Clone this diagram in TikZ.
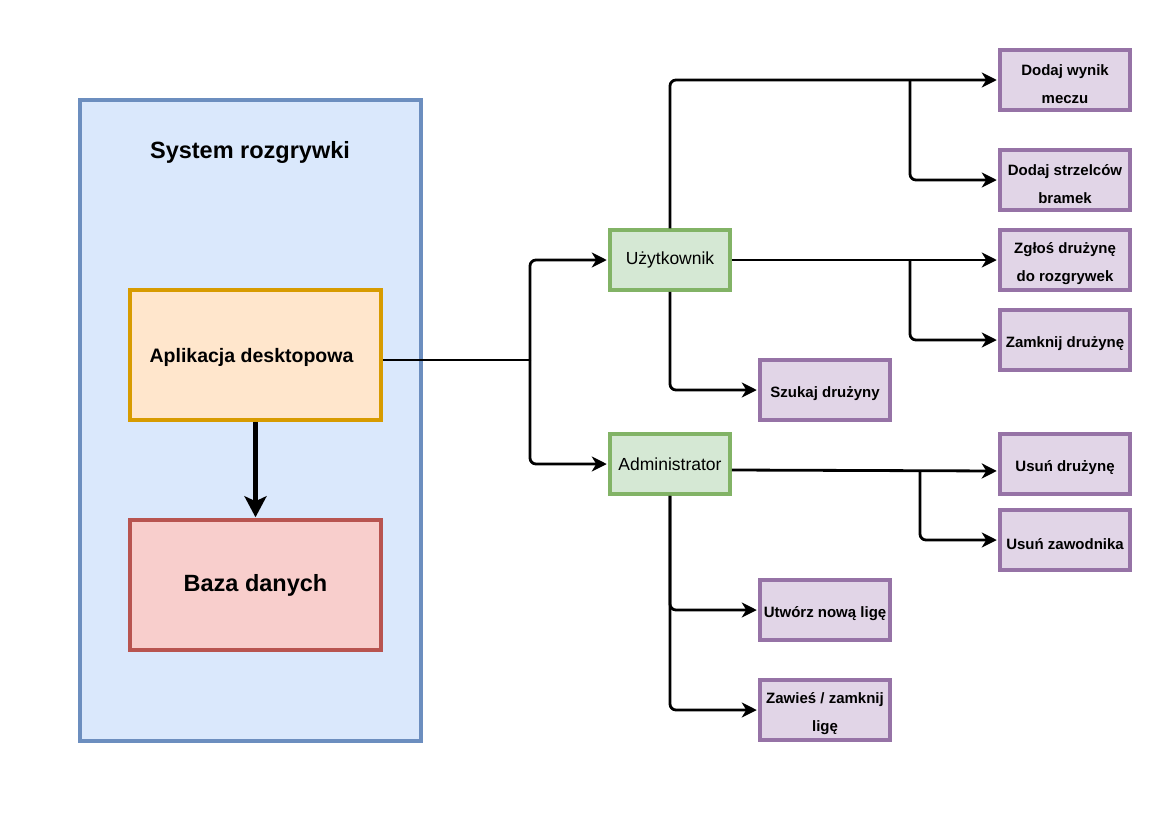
\documentclass[tikz,border=0pt]{standalone}
\usepackage{fontspec}
\setmainfont{Liberation Sans}
\usetikzlibrary{arrows.meta}

\definecolor{sysfill}{HTML}{DAE8FC}
\definecolor{sysline}{HTML}{6C8EBF}
\definecolor{appfill}{HTML}{FFE6CC}
\definecolor{appline}{HTML}{D79B00}
\definecolor{dbfill}{HTML}{F8CECC}
\definecolor{dbline}{HTML}{B85450}
\definecolor{rolefill}{HTML}{D5E8D4}
\definecolor{roleline}{HTML}{82B366}
\definecolor{taskfill}{HTML}{E1D5E7}
\definecolor{taskline}{HTML}{9673A6}

\begin{document}
\begin{tikzpicture}[x=1pt,y=-1pt,
  box/.style={draw, rectangle, line width=3.5pt, inner sep=0pt, align=center},
  role/.style={box, fill=rolefill, draw=roleline, minimum width=120pt, minimum height=60pt,
    font=\fontsize{17.5}{20}\selectfont},
  task/.style={box, fill=taskfill, draw=taskline, minimum width=130pt, minimum height=60pt,
    text height=19pt, font=\fontsize{15}{28}\selectfont\bfseries},
  tasktwo/.style={task, text height=47pt},
  link/.style={line width=2.8pt, rounded corners=6pt, shorten >=1.5pt,
    -{Stealth[length=15pt,width=15pt,inset=4.5pt]}},
  plain/.style={line width=2.8pt}]

\useasboundingbox (0,0) rectangle (1169,827);

% system frame
\node[box, fill=sysfill, draw=sysline, minimum width=341pt, minimum height=641pt] (sys) at (250.5,420.5) {};
\node[font=\fontsize{23.5}{26}\selectfont\bfseries] (title) at (250,152) {System rozgrywki};

% application and database
\node[box, fill=appfill, draw=appline, minimum width=251pt, minimum height=130pt, text height=19pt,
  font=\fontsize{19.5}{22}\selectfont\bfseries] (app) at (255.5,355) {\hspace*{-8pt}Aplikacja desktopowa};
\node[box, fill=dbfill, draw=dbline, minimum width=251pt, minimum height=130pt,
  font=\fontsize{23.5}{26}\selectfont\bfseries] (db) at (255.5,585) {Baza danych};

% roles
\node[role] (usr) at (670,260) {Użytkownik};
\node[role] (adm) at (670,464) {Administrator};

% user tasks
\node[tasktwo] (wynik) at (1065,80) {Dodaj wynik\\meczu};
\node[tasktwo] (strz) at (1065,180) {Dodaj strzelców\\bramek};
\node[tasktwo] (zglos) at (1065,260) {Zgłoś drużynę\\do rozgrywek};
\node[task] (zamk) at (1065,340) {Zamknij drużynę};
\node[task] (szuk) at (825,390) {Szukaj drużyny};

% administrator tasks
\node[task] (usdr) at (1065,464) {Usuń drużynę};
\node[task] (uszaw) at (1065,540) {Usuń zawodnika};
\node[task] (utw) at (825,610) {Utwórz nową ligę};
\node[tasktwo] (zaw) at (825,710) {Zawieś / zamknij\\ligę};

% branch points
\coordinate (split) at (530,360);
\coordinate (b1) at (910,80);
\coordinate (b2) at (910,260);
\coordinate (b3) at (920,471);

% application to database
\draw[line width=4.5pt, shorten >=1pt, -{Stealth[length=21pt,width=22pt,inset=5pt]}] (app.south) -- (db.north);

% application to roles
\draw[plain] (app.east |- split) -- (split);
\draw[link] (split) |- (usr.west);
\draw[link] (split) |- (adm.west);

% user connectors
\draw[link] (usr.north) |- (wynik.west);
\draw[link] (b1) |- (strz.west);
\draw[link] (usr.east) -- (zglos.west);
\draw[link] (b2) |- (zamk.west);
\draw[link] (usr.south) |- (szuk.west);

% administrator connectors
\draw[link] ([yshift=-6pt]adm.east) -- ([yshift=-7pt]usdr.west);
\draw[link] (b3) |- (uszaw.west);
\draw[link] (adm.south) |- (utw.west);
\draw[link] (adm.south) |- (zaw.west);
\end{tikzpicture}
\end{document}
